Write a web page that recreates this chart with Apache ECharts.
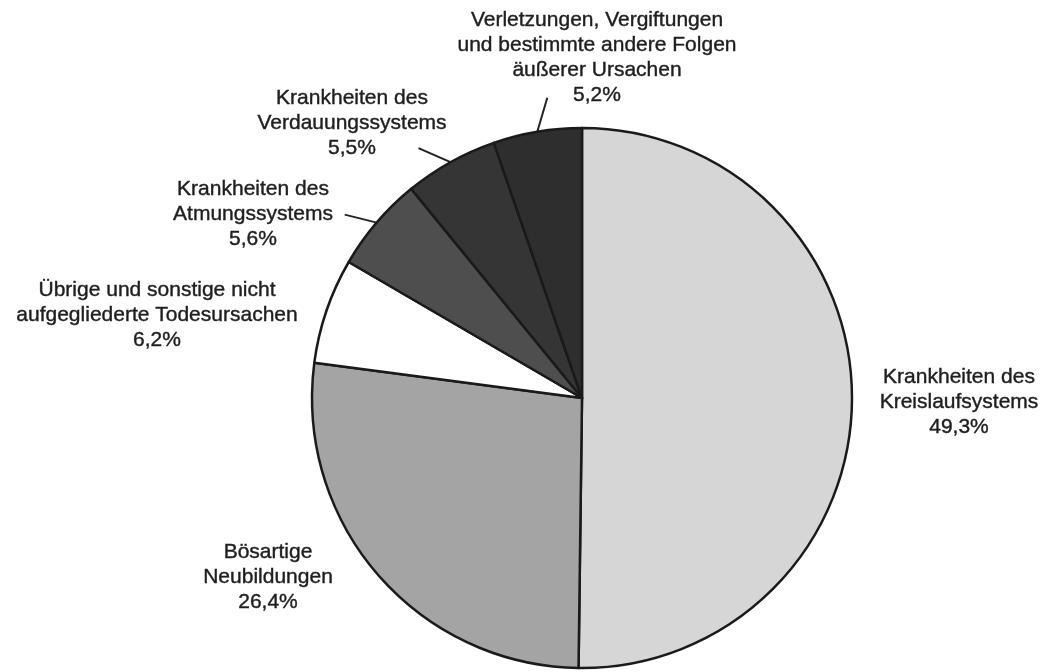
<!DOCTYPE html>
<html>
<head>
<meta charset="utf-8">
<script src="https://cdn.jsdelivr.net/npm/echarts@6/dist/echarts.min.js"></script>
<style>
  html, body { margin: 0; padding: 0; background: #ffffff; }
  #chart { width: 1046px; height: 672px; }
</style>
</head>
<body>
<div id="chart"></div>
<script>
// ---- data ----
const categories = [
  'Krankheiten des\nKreislaufsystems',
  'Bösartige\nNeubildungen',
  'Übrige und sonstige nicht\naufgegliederte Todesursachen',
  'Krankheiten des\nAtmungssystems',
  'Krankheiten des\nVerdauungssystems',
  'Verletzungen, Vergiftungen\nund bestimmte andere Folgen\näußerer Ursachen'
];
const values = [49.3, 26.4, 6.2, 5.6, 5.5, 5.2];

// ---- styling / layout ----
const colors = ['#d6d6d6', '#a4a4a4', '#ffffff', '#4e4e4e', '#353535', '#2e2e2e'];
const labelCenters = [[959, 402], [268, 577], [157, 315], [253, 214], [352, 123], [597, 58]];
const leaderOffsets = [null, null, null, [-32, -8], [-32, -14], [10, -34]];

const chart = echarts.init(document.getElementById('chart'), null, { renderer: 'canvas' });

const seriesData = categories.map((name, i) => ({
  name: name,
  value: values[i],
  itemStyle: { color: colors[i] },
  labelLine: { show: !!leaderOffsets[i] }
}));

chart.setOption({
  animation: false,
  backgroundColor: '#ffffff',
  series: [{
    type: 'pie',
    center: [582, 398],
    radius: 270,
    startAngle: 90,
    clockwise: true,
    silent: true,
    data: seriesData,
    itemStyle: { borderColor: '#1a1a1a', borderWidth: 2.5 },
    label: {
      show: true,
      position: 'outside',
      overflow: 'none',
      formatter: p => p.name + '\n' + String(p.value).replace('.', ',') + '%',
      fontFamily: 'Liberation Sans, Arial, sans-serif',
      fontSize: 21,
      lineHeight: 25,
      color: '#1e1e1e',
      textBorderColor: '#1e1e1e',
      textBorderWidth: 0.4,
      align: 'center'
    },
    labelLine: {
      length: 20,
      length2: 10,
      lineStyle: { color: '#222222', width: 2 }
    },
    labelLayout: function (params) {
      const i = params.dataIndex;
      const c = labelCenters[i];
      const res = { x: c[0], y: c[1], align: 'center', verticalAlign: 'middle' };
      const o = leaderOffsets[i];
      if (o && params.labelLinePoints) {
        const p0 = params.labelLinePoints[0];
        res.labelLinePoints = [p0, [p0[0] + o[0], p0[1] + o[1]]];
      }
      return res;
    }
  }]
});
</script>
</body>
</html>
